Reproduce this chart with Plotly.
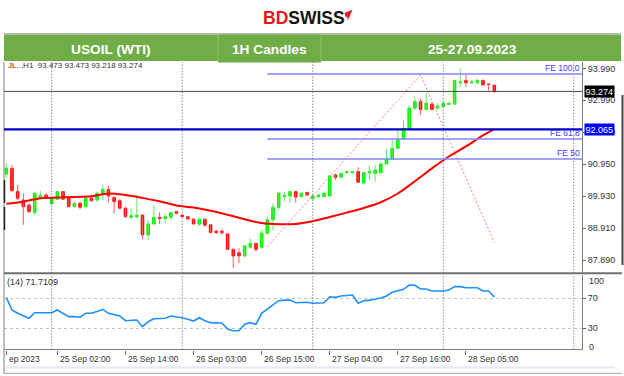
import plotly.graph_objects as go

W, H = 624, 376
def px(x): return x / W
def py(y): return 1 - y / H

# ---------------- data ----------------
opens  = [90.64, 90.82, 90.08, 89.81, 89.65, 89.42, 89.90, 89.97, 89.69, 89.84,
          90.08, 89.87, 89.60, 89.71, 89.60, 89.87, 89.81, 90.00, 90.15, 89.89,
          89.79, 89.55, 89.26, 89.28, 89.33, 88.70, 89.05, 89.26, 89.22, 89.26,
          89.44, 89.33, 89.28, 89.20, 89.04, 89.20, 89.02, 88.82, 88.82, 88.73,
          88.24, 88.13, 88.03, 88.31, 88.43, 88.31, 88.75, 89.18, 89.58, 89.92,
          89.94, 90.08, 89.92, 90.05, 89.85, 89.92, 89.92, 89.94, 90.61, 90.54,
          90.68, 90.68, 90.72, 90.36, 90.68, 90.66, 90.68, 90.96, 91.11, 91.46,
          91.75, 92.10, 92.74, 92.95, 92.70, 92.87, 92.74, 92.79, 92.86, 92.87,
          93.55, 93.62, 93.55, 93.55, 93.62, 93.51, 93.473]
highs  = [90.99, 90.93, 90.29, 90.03, 89.71, 90.05, 90.11, 90.04, 89.92, 90.10,
          90.10, 89.92, 89.76, 89.76, 89.92, 89.92, 90.08, 90.29, 90.26, 89.92,
          89.84, 89.60, 89.55, 89.97, 89.36, 89.18, 89.65, 89.42, 89.39, 89.44,
          89.47, 89.36, 89.30, 89.23, 89.26, 89.22, 89.04, 88.86, 88.88, 88.75,
          88.27, 88.27, 88.38, 88.59, 88.45, 88.86, 89.28, 89.71, 90.08, 90.08,
          90.11, 90.11, 90.05, 90.08, 89.97, 90.00, 90.08, 90.61, 90.66, 90.68,
          90.74, 90.74, 90.86, 90.72, 90.90, 90.93, 91.03, 91.43, 91.73, 92.04,
          92.36, 92.84, 93.11, 93.05, 93.23, 92.94, 92.90, 92.94, 92.91, 93.64,
          94.01, 93.80, 93.64, 93.69, 93.66, 93.51, 93.473]
lows   = [90.51, 90.08, 89.81, 89.02, 89.41, 89.33, 89.87, 89.88, 89.65, 89.81,
          89.81, 89.58, 89.58, 89.52, 89.58, 89.76, 89.76, 89.81, 89.73, 89.39,
          89.52, 89.26, 89.20, 89.23, 88.56, 88.54, 89.02, 89.05, 89.07, 89.18,
          89.36, 89.26, 89.18, 89.02, 88.98, 88.96, 88.75, 88.73, 88.70, 88.22,
          87.64, 87.80, 87.99, 88.27, 88.16, 88.27, 88.70, 88.85, 89.49, 89.76,
          89.73, 89.73, 89.89, 89.94, 89.84, 89.89, 89.90, 89.92, 90.45, 90.50,
          90.66, 90.66, 90.35, 90.32, 90.45, 90.40, 90.66, 90.93, 91.09, 91.43,
          91.73, 92.08, 92.70, 92.52, 92.68, 92.67, 92.70, 92.77, 92.84, 92.84,
          93.42, 93.41, 93.51, 93.51, 93.45, 93.30, 93.218]
closes = [90.83, 90.11, 89.87, 89.60, 89.44, 90.03, 89.95, 89.90, 89.87, 90.08,
          89.84, 89.60, 89.71, 89.58, 89.87, 89.79, 90.03, 90.15, 89.94, 89.76,
          89.55, 89.28, 89.31, 89.33, 88.70, 89.05, 89.26, 89.22, 89.28, 89.41,
          89.39, 89.28, 89.21, 89.05, 89.20, 89.01, 88.78, 88.77, 88.77, 88.24,
          88.03, 88.03, 88.35, 88.43, 88.24, 88.75, 89.18, 89.58, 90.03, 89.96,
          90.08, 89.91, 90.03, 89.97, 89.94, 89.97, 90.03, 90.58, 90.54, 90.66,
          90.72, 90.72, 90.38, 90.68, 90.72, 90.77, 90.96, 91.14, 91.46, 91.75,
          92.10, 92.74, 92.95, 92.70, 92.90, 92.70, 92.81, 92.90, 92.90, 93.62,
          93.58, 93.55, 93.58, 93.62, 93.48, 93.49, 93.274]
bars = list(range(len(opens)))

ma_bars = [0, 3, 6, 9, 12, 15, 18, 21, 24, 27, 30, 33, 36, 39, 42, 45, 48, 51,
           54, 57, 60, 63, 66, 69, 72, 75, 78, 81, 84, 86]
ma_vals = [89.69, 89.76, 89.87, 89.89, 89.91, 89.93, 90.02, 89.97, 89.88, 89.77,
           89.64, 89.57, 89.47, 89.34, 89.20, 89.08, 89.04, 89.05, 89.14, 89.27,
           89.41, 89.56, 89.74, 90.02, 90.41, 90.82, 91.20, 91.52, 91.87, 92.07]

rsi_vals = [71.3, 54.4, 50.0, 46.8, 43.3, 50.8, 51.0, 51.3, 50.8, 54.4,
            50.0, 45.5, 45.5, 44.7, 50.0, 50.0, 52.5, 55.3, 50.0, 48.0,
            46.4, 40.1, 40.1, 41.1, 32.1, 38.8, 42.8, 43.0, 43.3, 46.4,
            45.5, 44.0, 42.0, 39.7, 44.1, 40.0, 37.5, 37.0, 36.7, 29.1,
            26.8, 26.8, 35.3, 37.5, 35.3, 50.0, 56.0, 61.0, 66.8, 67.5,
            67.7, 64.1, 64.5, 64.7, 63.3, 63.5, 64.1, 72.1, 71.3, 73.1,
            73.5, 74.3, 63.3, 66.8, 67.5, 68.7, 70.5, 73.1, 78.0, 80.0,
            82.0, 87.7, 87.3, 82.4, 82.4, 79.7, 79.7, 79.7, 81.1, 85.5,
            85.5, 84.1, 84.1, 84.1, 79.7, 79.7, 71.7]
rsi_label = "(14) 71.7109"

price_ticks = [87.89, 88.91, 89.93, 90.95, 91.97, 92.99, 93.99]
price_tick_text = ["87.890", "88.910", "89.930", "90.950", "91.970", "92.990", "93.990"]
rsi_ticks = [70, 30]
time_tick_bars = [0, 9, 21, 33, 45, 57, 69, 81]
time_tick_labels = ["ep 2023", "25 Sep 02:00", "25 Sep 14:00", "26 Sep 03:00",
                    "26 Sep 15:00", "27 Sep 04:00", "27 Sep 16:00", "28 Sep 05:00"]
day_sep_bars = [8, 31, 54, 77, 100]

bid_price = 93.274
support_price = 92.065
fe_names = ["FE 100.0", "FE 61.8", "FE 50"]
fe_levels = [93.83, 91.76, 91.12]
fe_start_bar = 46
fibo_bars = [46, 73, 86]
fibo_prices = [88.33, 93.80, 88.46]

ohlc_header = "JL..,H1  93.473 93.473 93.218 93.274"
header_cells = ["USOIL (WTI)", "1H Candles", "25-27.09.2023"]

# ---------------- layout constants ----------------
X_RANGE = [-0.405, 101.45]
X_DOM = [px(4), px(582)]
Y_DOM = [py(272.7), py(62)]
Y_RANGE = [87.495, 94.212]
Y2_DOM = [py(349.5), py(274.5)]
Y2_RANGE = [1.73, 101.73]
FONT = "Liberation Sans, Arial, sans-serif"
UP, DOWN = "#00f000", "#ff0000"
UP_W, DOWN_W = "#5cf05c", "#ff5c5c"

fig = go.Figure()

# wicks
for sel, col in ((lambda o, c: c >= o, UP_W), (lambda o, c: c < o, DOWN_W)):
    xs, ys = [], []
    for i in bars:
        if sel(opens[i], closes[i]):
            xs += [i, i, None]
            ys += [lows[i], highs[i], None]
    fig.add_trace(go.Scatter(x=xs, y=ys, mode="lines", line=dict(color=col, width=1),
                             hoverinfo="skip"))

# bodies
for sel, col in ((lambda o, c: c >= o, UP), (lambda o, c: c < o, DOWN)):
    idx = [i for i in bars if sel(opens[i], closes[i])]
    fig.add_trace(go.Bar(
        x=idx,
        base=[min(opens[i], closes[i]) for i in idx],
        y=[max(abs(closes[i] - opens[i]), 0.015) for i in idx],
        width=0.45, marker=dict(color=col, line=dict(color=col, width=1)),
        hoverinfo="skip"))

# moving average
fig.add_trace(go.Scatter(x=ma_bars, y=ma_vals, mode="lines",
                         line=dict(color="#ff0000", width=2, shape="spline"),
                         hoverinfo="skip"))

# fibo expansion trend
fig.add_trace(go.Scatter(x=fibo_bars, y=fibo_prices, mode="lines",
                         line=dict(color="#ff8080", width=1, dash="2px,2px"),
                         hoverinfo="skip"))

# RSI
fig.add_trace(go.Scatter(x=bars, y=rsi_vals, xaxis="x2", yaxis="y2", mode="lines",
                         line=dict(color="#1e90ff", width=1.6), hoverinfo="skip"))

shapes = []
# header bar
shapes.append(dict(type="line", xref="paper", yref="paper", x0=px(4), x1=px(621),
                   y0=py(33.8), y1=py(33.8), line=dict(color="#9a9a9a", width=1)))
shapes.append(dict(type="rect", xref="paper", yref="paper", x0=px(4), x1=px(621),
                   y0=py(61), y1=py(34.5), fillcolor="#70ad47", line=dict(width=0)))
shapes.append(dict(type="rect", xref="paper", yref="paper", x0=px(218), x1=px(321),
                   y0=py(62.5), y1=py(34.5), fillcolor="#70ad47", line=dict(width=0)))
for xc in (218, 321):
    shapes.append(dict(type="line", xref="paper", yref="paper", x0=px(xc), x1=px(xc),
                       y0=py(61), y1=py(34.5), line=dict(color="#8cc46c", width=1)))

# logo arrow
ax = [344.5, 352.5, 347.8, 347.2, 345.8]
ay = [13.0, 9.8, 20.5, 16.6, 17.5]
path = "M " + " L ".join(f"{px(a)},{py(b)}" for a, b in zip(ax, ay)) + " Z"
shapes.append(dict(type="path", xref="paper", yref="paper", path=path,
                   fillcolor="#e3191e", line=dict(width=0)))

# frame lines
def pline(x0, y0, x1, y1, color="#808080", width=1):
    shapes.append(dict(type="line", xref="paper", yref="paper", x0=px(x0), x1=px(x1),
                       y0=py(y0), y1=py(y1), line=dict(color=color, width=width)))
pline(4, 62, 4, 373.5)
pline(4.5, 180, 4.5, 203, "#222", 1.5)
pline(4.5, 207, 4.5, 230, "#222", 1.5)
pline(4, 273.3, 622, 273.3, "#707070", 2)
pline(4, 349.5, 582, 349.5)
pline(4, 373.3, 622, 373.3, "#a0a0a0")
pline(622.5, 95, 622.5, 265, "#444", 2)
shapes.append(dict(type="rect", xref="paper", yref="paper", x0=px(6), x1=px(615),
                   y0=py(368.6), y1=py(366.4), fillcolor="#e1eaf6", line=dict(width=0)))

# day separators
for b in day_sep_bars:
    shapes.append(dict(type="line", xref="x", yref="y domain", x0=b, x1=b, y0=0, y1=1,
                       line=dict(color="#555", width=1, dash="1px,2px")))
    shapes.append(dict(type="line", xref="x2", yref="y2 domain", x0=b, x1=b, y0=0, y1=1,
                       line=dict(color="#555", width=1, dash="1px,2px")))

# price lines
shapes.append(dict(type="line", xref="x domain", yref="y", x0=0, x1=1,
                   y0=bid_price, y1=bid_price, line=dict(color="#4a4a4a", width=1)))
for lv in fe_levels:
    shapes.append(dict(type="line", xref="x", yref="y", x0=fe_start_bar, x1=X_RANGE[1],
                       y0=lv, y1=lv, line=dict(color="#8585ff", width=1.5)))
shapes.append(dict(type="line", xref="x domain", yref="y", x0=0, x1=1,
                   y0=support_price, y1=support_price, line=dict(color="#0000c8", width=2.2)))

ann = []
def note(x, y, text, size, color, xanchor="center", yanchor="middle", **kw):
    d = dict(x=x, y=y, text=text, showarrow=False, xanchor=xanchor, yanchor=yanchor,
             font=dict(family=FONT, size=size, color=color))
    d.setdefault("xref", "paper")
    d.setdefault("yref", "paper")
    d.update(kw)
    ann.append(d)

note(px(303.5), py(17.8), "<b><span style='color:#e3191e'>BD</span>SWISS</b>", 17.5, "#141414")
for txt, xc in zip(header_cells, (111.4, 269.6, 472)):
    note(px(xc), py(49.2), f"<b>{txt}</b>", 13.7, "white")
note(px(5.5), py(66), ohlc_header, 8, "#333", xanchor="left")
note(px(5), py(281.7), rsi_label, 9, "#333", xanchor="left")
for txt, yc in (("100", 281), ("0", 346.5)):
    note(px(586.5), py(yc), txt, 9, "#333", xanchor="left")
for b, t in zip(time_tick_bars, time_tick_labels):
    note(b, py(359), t, 8.5, "#333", xanchor="left", xref="x2", xshift=0.5)
for name, lv in zip(fe_names, fe_levels):
    note(px(581.5), lv, name, 8.5, "#3c3cff", xanchor="right", yanchor="bottom",
         yref="y", yshift=-1)
for val, bg in ((bid_price, "#000000"), (support_price, "#0000ff")):
    note(px(584), val, f"{val:.3f}", 9, "white", xanchor="left", yref="y",
         bgcolor=bg, borderpad=0.5)

fig.update_layout(
    width=W, height=H, margin=dict(l=0, r=0, t=0, b=0, autoexpand=False),
    paper_bgcolor="white", plot_bgcolor="white", showlegend=False,
    barmode="overlay", hovermode=False,
    shapes=shapes, annotations=ann,
    xaxis=dict(domain=X_DOM, range=X_RANGE, anchor="y", showticklabels=False,
               showgrid=False, zeroline=False, showline=False, fixedrange=True),
    yaxis=dict(domain=Y_DOM, range=Y_RANGE, anchor="x", side="right",
               tickvals=price_ticks, ticktext=price_tick_text, ticks="outside",
               ticklen=3, tickcolor="#666", showgrid=False, zeroline=False,
               showline=True, linecolor="#808080", linewidth=1,
               tickfont=dict(family=FONT, size=9, color="#333")),
    xaxis2=dict(domain=X_DOM, range=X_RANGE, anchor="y2", matches="x",
                tickvals=time_tick_bars, ticks="outside", ticklen=4, tickcolor="#666",
                showticklabels=False, showgrid=False, zeroline=False, showline=False),
    yaxis2=dict(domain=Y2_DOM, range=Y2_RANGE, anchor="x2", side="right",
                tickvals=rsi_ticks, ticktext=[str(t) for t in rsi_ticks],
                ticks="outside", ticklen=3, tickcolor="#666",
                showgrid=True, gridcolor="#c4c4c4", griddash="dot", gridwidth=1,
                zeroline=False, showline=True, linecolor="#808080",
                tickfont=dict(family=FONT, size=9, color="#333")),
)

fig.write_html("out.html", config={"displayModeBar": False},
               post_script="document.body.style.margin='0';document.body.style.overflow='hidden';")
